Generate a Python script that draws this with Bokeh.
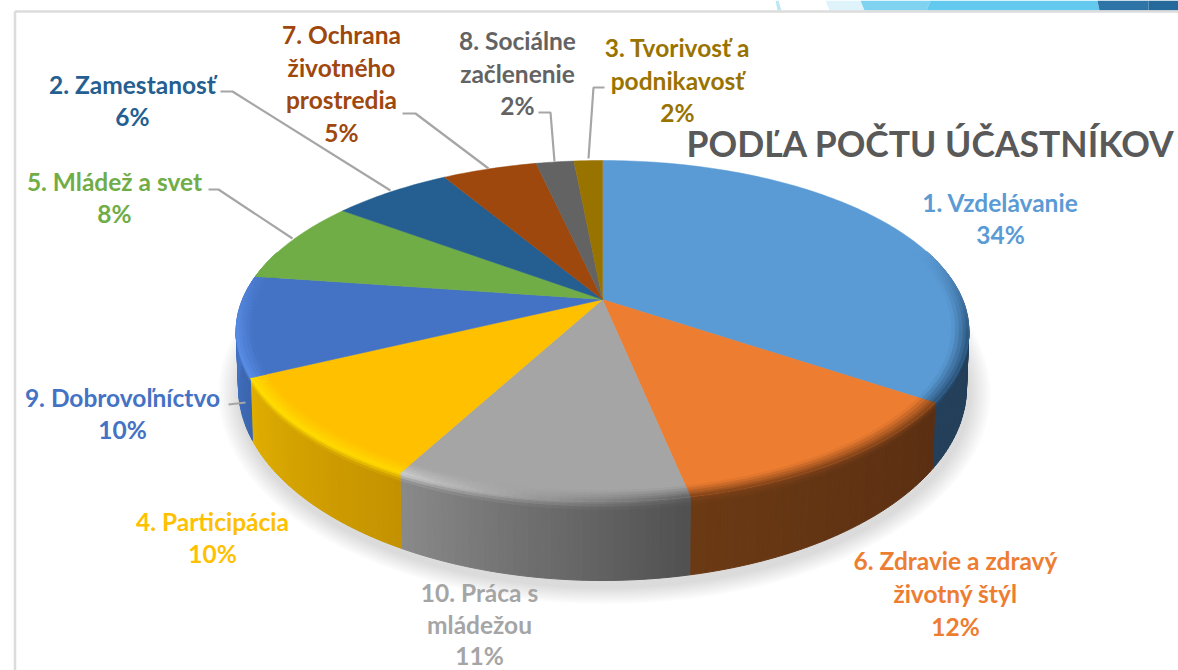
import math
from bokeh.plotting import figure
from bokeh.models import Range1d
from bokeh.core.properties import value
from bokeh.embed import file_html
from bokeh.resources import INLINE

# ---- data (clockwise from 12 o'clock)
names = ["1. Vzdelávanie", "6. Zdravie a zdravý\nživotný štýl", "10. Práca s\nmládežou",
         "4. Participácia", "9. Dobrovoľníctvo", "5. Mládež a svet", "2. Zamestanosť",
         "7. Ochrana\nživotného\nprostredia", "8. Sociálne\nzačlenenie", "3. Tvorivosť a\npodnikavosť"]
shares = [34.5, 12.3, 11.0, 10.0, 9.5, 7.9, 6.3, 5.0, 2.0, 1.5]
pct_labels = ["34%", "12%", "11%", "10%", "10%", "8%", "6%", "5%", "2%", "2%"]
title = "PODĽA POČTU ÚČASTNÍKOV"

# ---- styles
colors = ["#5B9BD5", "#ED7D31", "#A5A5A5", "#FFC000", "#4472C4", "#70AD47", "#255E91", "#9E480E", "#636363", "#997300"]
wall_a = ["#233F5A", "#5A2E12", "#505050", "#C49200", "#3A64AD", "#41682A", "#16385A", "#5E2B08", "#3B3B3B", "#5C4500"]
wall_b = ["#233F5A", "#6B3A14", "#8A8A8A", "#E0AE00", "#4A7ED6", "#41682A", "#16385A", "#5E2B08", "#3B3B3B", "#5C4500"]
rim_a = ["#2A5278", "#7E4119", "#606060", "#FFD800", "#5A8FE6", "#70AD47", "#255E91", "#9E480E", "#636363", "#997300"]
rim_b = ["#2A5278", "#7E4119", "#CFCFCF", "#FFE000", "#5A8FE6", "#70AD47", "#255E91", "#9E480E", "#636363", "#997300"]

# label anchors in page pixels: centre x, first line y, line pitch
label_pos = [(1000, 202, 32), (955, 560, 33), (479, 592, 31.5), (212, 521, 32), (122, 397, 32),
             (114, 181, 32), (132, 84, 32), (341, 34, 32.5), (517, 40, 32.5), (677, 47, 32.5)]
leaders = [
    ([220, 232, 390], [91, 91, 190]),
    ([208, 218, 292], [189, 189, 238]),
    ([402, 415, 488], [113, 113, 168]),
    ([538, 550, 554], [112, 112, 161]),
    ([604, 593, 588], [87, 87, 158]),
    ([228, 245], [404, 402]),
]

CX, CY, A, B, K = 602, 299, 360, 164.7, 0.185
BOT_Y, BOT_RX, BOT_RY = 387, 364, 193
ELL_Y = CY + (B / (1 - K) - B / (1 + K)) / 2
ELL_RX = A / math.sqrt(1 - K * K)
ELL_RY = (B / (1 - K) + B / (1 + K)) / 2


def top(th, r=1.0):
    u, v = r * math.sin(th), r * math.cos(th)
    w = 1 + K * v
    return CX + A * u / w, CY - B * v / w


def wall(th, d):
    x, y = top(th)
    s = (x - CX) / ELL_RX
    c = (ELL_Y - y) / ELL_RY
    return x + d * (CX + BOT_RX * s - x), y + d * (BOT_Y - BOT_RY * c - y)


def hex2(c):
    return tuple(int(c[i:i + 2], 16) for i in (1, 3, 5))


def mix(a, b, t):
    t = max(0.0, min(1.0, t))
    p, q = hex2(a), hex2(b)
    return "#%02x%02x%02x" % tuple(round(p[i] + (q[i] - p[i]) * t) for i in range(3))


p = figure(width=1178, height=670, x_range=Range1d(0, 1178), y_range=Range1d(670, 0),
           toolbar_location=None, output_backend="svg", min_border=0,
           background_fill_color="white", border_fill_color="white", outline_line_color=None)
p.axis.visible = False
p.grid.visible = False

# page furniture: banner and slide frame
for xs, col in [([775, 778, 781, 777], "#BFE6F5"), ([825, 860, 864, 829], "#DFF3FB"), ([860, 930, 926, 864], "#7FD3F0"),
                ([930, 1097, 1099, 926], "#63C9EE"), ([1097, 1148, 1148, 1099], "#2E74A6"), ([1148, 1178, 1178, 1148], "#256A9A")]:
    p.patch(xs, [0, 0, 10, 10], fill_color=col, line_color=None)
p.line([14.5, 14.5], [11, 670], line_color="#DCDCDC", line_width=2.5)
p.line([14.5, 1178], [11, 11], line_color="#DCDCDC", line_width=2.5)

# soft shadow under the pie
circle = [j * 2 * math.pi / 120 for j in range(121)]
for i in range(9):
    g = 22 - i * 2.4
    p.patch([CX + 2 + (BOT_RX + g) * math.sin(t) for t in circle],
            [BOT_Y + 6 + (BOT_RY + g * 0.8) * math.cos(t) for t in circle],
            fill_color="#000000", fill_alpha=0.016, line_color=None)

total = sum(shares)
edges = [0.0]
for s in shares:
    edges.append(edges[-1] + s / total * 2 * math.pi)

wx, wy, wc = [], [], []
tx, ty, tc = [], [], []
rx, ry, rc = [], [], []
D_LEVELS = [0.0, 0.035, 0.07, 0.11, 1.0]
R_LEVELS = [0.955, 0.965, 0.975, 0.985, 0.993, 1.0]

for i, col in enumerate(colors):
    a, b = edges[i], edges[i + 1]
    n = max(2, int((b - a) / math.radians(1)))
    ths = [a + (b - a) * j / n for j in range(n + 1)]
    for j in range(n):
        t0, t1 = ths[j], ths[j + 1]
        mid = (t0 + t1) / 2
        fr = (mid - a) / (b - a)
        base = mix(wall_a[i], wall_b[i], fr)
        rim = mix(rim_a[i], rim_b[i], fr)
        vis = max(0.0, min(1.0, (0.3 - math.cos(mid)) / 0.5))
        if vis > 0:
            for k in range(len(D_LEVELS) - 1):
                d0, d1 = D_LEVELS[k], D_LEVELS[k + 1]
                c = base if d0 >= 0.11 else mix(rim, base, (k + 0.5) / 3)
                q = [wall(t0, d0), wall(t1, d0), wall(t1, d1), wall(t0, d1)]
                wx.append([z[0] for z in q]); wy.append([z[1] for z in q]); wc.append(c)
            for k in range(len(R_LEVELS) - 1):
                r0, r1 = R_LEVELS[k], R_LEVELS[k + 1]
                c = mix(col, rim, vis * (k + 0.5) / (len(R_LEVELS) - 1))
                q = [top(t0, r0), top(t1, r0), top(t1, r1), top(t0, r1)]
                rx.append([z[0] for z in q]); ry.append([z[1] for z in q]); rc.append(c)
    arc = [top(t) for t in ths]
    tx.append([CX] + [z[0] for z in arc]); ty.append([CY] + [z[1] for z in arc]); tc.append(col)

p.patches(wx, wy, fill_color=wc, line_color=wc, line_width=1.0)
p.patches(tx, ty, fill_color=tc, line_color=tc, line_width=0.5)
p.patches(rx, ry, fill_color=rc, line_color=rc, line_width=0.8)

# leader lines
p.multi_line([l[0] for l in leaders], [l[1] for l in leaders], line_color="#A6A6A6", line_width=2.2)

# labels
font = value("Lato")
lx, ly, lt, lc = [], [], [], []
for name, pct, col, (x, y, dy) in zip(names, pct_labels, colors, label_pos):
    lines = name.split("\n") + [pct]
    for j, line in enumerate(lines):
        lx.append(x); ly.append(y + j * dy); lt.append(line); lc.append(col)
p.text(lx, ly, text=lt, text_color=lc, text_font=font, text_font_style="bold", text_font_size="24.5px",
       text_align="center", text_baseline="middle")
p.text([686], [143], text=[title], text_color="#595959", text_font=font, text_font_style="bold",
       text_font_size="35.5px", text_align="left", text_baseline="middle")

open("out.html", "w").write(file_html(p, INLINE))
